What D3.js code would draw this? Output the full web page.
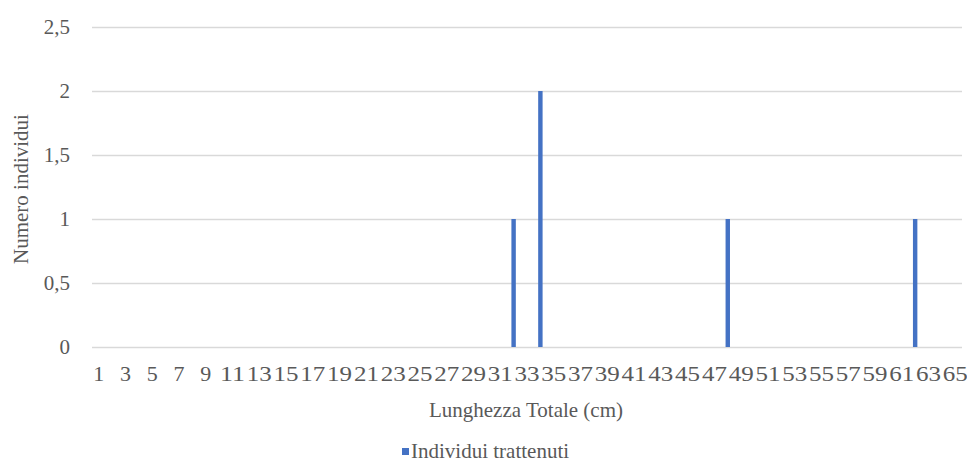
<!DOCTYPE html>
<html>
<head>
<meta charset="utf-8">
<script src="https://cdn.jsdelivr.net/npm/d3@7"></script>
<style>
  html, body { margin: 0; padding: 0; background: #ffffff; }
  svg { display: block; }
  text { font-family: "Liberation Serif", "Times New Roman", serif; fill: #595959; }
</style>
</head>
<body>
<svg id="chart" width="967" height="463"></svg>
<script>
// Length classes (cm)
const lengths = [
  1, 2, 3, 4, 5, 6, 7, 8, 9, 10, 11, 12, 13, 14, 15, 16, 17, 18, 19, 20,
  21, 22, 23, 24, 25, 26, 27, 28, 29, 30, 31, 32, 33, 34, 35, 36, 37, 38, 39, 40,
  41, 42, 43, 44, 45, 46, 47, 48, 49, 50, 51, 52, 53, 54, 55, 56, 57, 58, 59, 60,
  61, 62, 63, 64, 65
];
// Number of retained individuals per length class
const retained = [
  0, 0, 0, 0, 0, 0, 0, 0, 0, 0, 0, 0, 0, 0, 0, 0, 0, 0, 0, 0,
  0, 0, 0, 0, 0, 0, 0, 0, 0, 0, 0, 1, 0, 2, 0, 0, 0, 0, 0, 0,
  0, 0, 0, 0, 0, 0, 0, 1, 0, 0, 0, 0, 0, 0, 0, 0, 0, 0, 0, 0,
  0, 1, 0, 0, 0
];
const yTicks = [0, 0.5, 1, 1.5, 2, 2.5];
const seriesName = "Individui trattenuti";
const xTitle = "Lunghezza Totale (cm)";
const yTitle = "Numero individui";

const svg = d3.select("#chart");
const plotLeft = 92, plotRight = 962, plotTop = 27, plotBottom = 347;

const x = d3.scaleBand()
  .domain(lengths)
  .range([plotLeft, plotRight])
  .paddingInner(0.67)
  .paddingOuter(0.335);

const y = d3.scaleLinear().domain([0, 2.5]).range([plotBottom, plotTop]);

const fmt = v => String(v).replace(".", ",");

// Horizontal gridlines
svg.append("g")
  .selectAll("line")
  .data(yTicks)
  .join("line")
  .attr("x1", plotLeft).attr("x2", plotRight)
  .attr("y1", d => Math.round(y(d)) + 0.5)
  .attr("y2", d => Math.round(y(d)) + 0.5)
  .attr("stroke", "#d9d9d9")
  .attr("stroke-width", 1.3);

// Y axis labels
const yAxis = d3.axisLeft(y).tickValues(yTicks).tickFormat(fmt).tickSize(0).tickPadding(22);
const gy = svg.append("g").attr("transform", `translate(${plotLeft},0)`).call(yAxis);
gy.select(".domain").remove();
gy.selectAll("text")
  .attr("font-family", "Liberation Serif, serif")
  .attr("font-size", 21)
  .attr("fill", "#595959")
  .attr("dy", "0.32em");

// X axis labels (every other class)
const xAxis = d3.axisBottom(x)
  .tickValues(lengths.filter((d, i) => i % 2 === 0))
  .tickSize(0).tickPadding(19);
const gx = svg.append("g").attr("transform", `translate(0,${plotBottom})`).call(xAxis);
gx.select(".domain").remove();
gx.selectAll("text")
  .attr("font-family", "Liberation Serif, serif")
  .attr("font-size", 21)
  .attr("fill", "#595959")
  .attr("textLength", d => (d < 10 ? 11 : 25))
  .attr("lengthAdjust", "spacingAndGlyphs");

// Bars
svg.append("g")
  .selectAll("rect")
  .data(lengths.map((d, i) => ({ k: d, v: retained[i] })).filter(d => d.v > 0))
  .join("rect")
  .attr("x", d => x(d.k))
  .attr("width", x.bandwidth())
  .attr("y", d => y(d.v))
  .attr("height", d => y(0) - y(d.v))
  .attr("fill", "#4472C4");

// Axis titles
svg.append("text")
  .attr("x", (plotLeft + plotRight) / 2 - 1)
  .attr("y", 417)
  .attr("text-anchor", "middle")
  .attr("font-size", 21)
  .text(xTitle);

svg.append("text")
  .attr("transform", `translate(28,189) rotate(-90)`)
  .attr("text-anchor", "middle")
  .attr("font-size", 21)
  .text(yTitle);

// Legend
const lg = svg.append("g").attr("transform", "translate(402,458)");
lg.append("rect").attr("x", 0).attr("y", -10).attr("width", 7).attr("height", 7).attr("fill", "#4472C4");
lg.append("text").attr("x", 9).attr("y", 0).attr("font-size", 21).text(seriesName);
</script>
</body>
</html>
